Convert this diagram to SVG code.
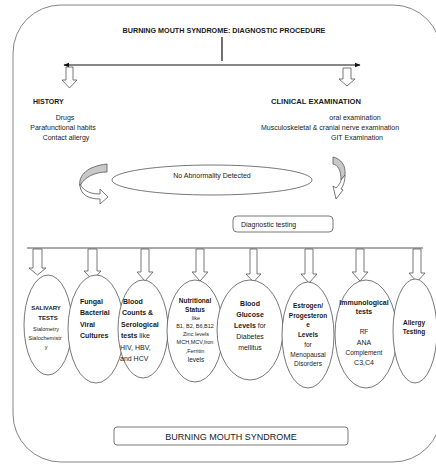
<svg xmlns="http://www.w3.org/2000/svg" width="436" height="464" viewBox="0 0 436 464">
<defs>
<style>
text{font-family:"Liberation Sans",Arial,sans-serif;fill:#1a1a1a;}
.b{font-weight:bold;}
.t7{font-size:7px;}
.t65{font-size:6.5px;}
.t6{font-size:6px;}
.t5{font-size:5.5px;}
.c{text-anchor:middle;}
.frame{fill:none;stroke:#666;stroke-width:0.8;}
.ell{fill:#fff;stroke:#555;stroke-width:0.8;}
.blk{fill:#fff;stroke:#555;stroke-width:0.8;}
.ln{stroke:#111;stroke-width:1.2;fill:none;}
.ln2{stroke:#555;stroke-width:1;fill:none;}
</style>
<marker id="ah" viewBox="0 0 10 10" refX="9" refY="5" markerWidth="5" markerHeight="5" orient="auto-start-reverse">
<path d="M0,1 L10,5 L0,9 Z" fill="#111"/>
</marker>
</defs>
<rect class="frame" x="13" y="5" width="428" height="457" rx="48" ry="48"/>

<g id="title"><text class="b c" x="224" y="33" font-size="7.2">BURNING MOUTH SYNDROME: DIAGNOSTIC PROCEDURE</text></g>

<g id="connectors">
<line class="ln" x1="222" y1="37" x2="222" y2="61" stroke-width="0.8"/>
<line class="ln" x1="64" y1="65" x2="360" y2="65" marker-start="url(#ah)" marker-end="url(#ah)"/>
<path class="blk" d="M66,67 L73,67 L73,80 L77,80 L69.5,88 L62,80 L66,80 Z"/>
<path class="blk" d="M343,68 L351,68 L351,79 L355,79 L347,86 L339,79 L343,79 Z"/>
<path d="M107,164 L107,172 C95,172 84,177 80,186 C78,175 88,166 107,164 Z" fill="#c8c8c8" stroke="#555" stroke-width="0.8"/>
<path d="M80,186 C81,195 89,199 100,199 L100,204 L108,197 L100,189 L100,194 C92,194 84,192 80,184 Z" fill="#fff" stroke="#555" stroke-width="0.8"/>
<path d="M333,157 C341,159 346,165 345,175 L341,180 C341,170 338,165 333,164 Z" fill="#c8c8c8" stroke="#555" stroke-width="0.8"/>
<path d="M345,175 C345,182 343,186 341,189 L343,190 L336,199 L333,186 L336,188 C339,185 341,182 341,180 Z" fill="#fff" stroke="#555" stroke-width="0.8"/>
<line class="ln2" x1="27" y1="248" x2="423" y2="248"/>
<path class="blk" d="M33,249 L42,249 L42,268 L46,268 L37.5,275 L29,268 L33,268 Z"/>
<path class="blk" d="M88,249 L97,249 L97,271 L101,271 L92.5,280 L84,271 L88,271 Z"/>
<path class="blk" d="M141,249 L149,249 L149,272 L153,272 L145,281 L137,272 L141,272 Z"/>
<path class="blk" d="M196,249 L204,249 L204,272 L208,272 L200,281 L192,272 L196,272 Z"/>
<path class="blk" d="M250,249 L257,249 L257,274 L261,274 L253.5,282 L246,274 L250,274 Z"/>
<path class="blk" d="M305,249 L313,249 L313,274 L317,274 L309,283 L301,274 L305,274 Z"/>
<path class="blk" d="M356,249 L364,249 L364,272 L368,272 L360,281 L352,272 L356,272 Z"/>
<path class="blk" d="M413,249 L421,249 L421,273 L425,273 L417,282 L409,273 L413,273 Z"/>
</g>

<g id="history">
<text class="b t7" x="33" y="104">HISTORY</text>
<text class="t7 c" x="65" y="120">Drugs</text>
<text class="t7 c" x="63" y="130">Parafunctional habits</text>
<text class="t7 c" x="66" y="140">Contact allergy</text>
</g>

<g id="clinical">
<text class="b c" x="316" y="104" font-size="7.6">CLINICAL EXAMINATION</text>
<text class="t7 c" x="355" y="120">oral examination</text>
<text class="t7 c" x="330" y="130">Musculoskeletal &amp; cranial nerve examination</text>
<text class="t7 c" x="357" y="140">GIT Examination</text>
</g>

<g id="nad">
<ellipse cx="212" cy="180" rx="100" ry="15" fill="none" stroke="#555" stroke-width="0.8"/>
<text class="t7 c" x="212" y="178">No Abnormality Detected</text>
</g>

<g id="diag">
<rect x="233" y="216" width="100" height="16" rx="4" fill="#fff" stroke="#555" stroke-width="0.8"/>
<text class="t7" x="241" y="227">Diagnostic  testing</text>
</g>

<g id="salivary">
<ellipse class="ell" cx="48" cy="325" rx="24" ry="50"/>
<text class="b t6 c" x="46" y="310">SALIVARY</text>
<text class="b t6 c" x="48" y="320">TESTS</text>
<text class="t5 c" x="46" y="331">Sialometry</text>
<text class="t5 c" x="45" y="340">Sialochemistr</text>
<text class="t5 c" x="46" y="349">y</text>
</g>

<g id="fungal">
<ellipse class="ell" cx="96" cy="329" rx="28" ry="54"/>
<text class="b t7" x="80" y="304">Fungal</text>
<text class="b t7" x="80" y="315">Bacterial</text>
<text class="b t7" x="80" y="327">Viral</text>
<text class="b t7" x="80" y="338">Cultures</text>
</g>

<g id="blood">
<ellipse class="ell" cx="143" cy="329" rx="25" ry="49"/>
<text class="b t7" x="123" y="304">Blood</text>
<text class="b t7" x="122" y="315">Counts &amp;</text>
<text class="b t7" x="121" y="327">Serological</text>
<text class="t7" x="121" y="338"><tspan class="b">tests</tspan> like</text>
<text class="t7" x="120" y="350">HIV, HBV,</text>
<text class="t7" x="120" y="361">and HCV</text>
</g>

<g id="nutritional">
<ellipse class="ell" cx="195" cy="331" rx="28" ry="51"/>
<text class="b t65 c" x="195" y="303">Nutritional</text>
<text class="b t65 c" x="195" y="312">Status</text>
<text class="t5 c" x="196" y="320">like</text>
<text class="t5 c" x="195" y="328">B1, B2, B6,B12</text>
<text class="t5 c" x="196" y="336">Zinc levels</text>
<text class="t5 c" x="195" y="344">MCH,MCV,Iron</text>
<text class="t5 c" x="195" y="353">,Ferritin</text>
<text class="t65 c" x="196" y="362">levels</text>
</g>

<g id="glucose">
<ellipse class="ell" cx="250" cy="330" rx="33" ry="50"/>
<text class="b t7 c" x="250" y="306">Blood</text>
<text class="b t7 c" x="250" y="317">Glucose</text>
<text class="t7 c" x="250" y="328"><tspan class="b">Levels</tspan> for</text>
<text class="t7 c" x="250" y="339">Diabetes</text>
<text class="t7 c" x="250" y="350">mellitus</text>
</g>

<g id="estrogen">
<ellipse class="ell" cx="308" cy="335" rx="26" ry="53"/>
<text class="b t65 c" x="308" y="308">Estrogen/</text>
<text class="b t65 c" x="308" y="318">Progesteron</text>
<text class="b t65 c" x="308" y="327">e</text>
<text class="b t65 c" x="308" y="337">Levels</text>
<text class="t65 c" x="308" y="347">for</text>
<text class="t65 c" x="308" y="357">Menopausal</text>
<text class="t65 c" x="308" y="366">Disorders</text>
</g>

<g id="immuno">
<ellipse class="ell" cx="366" cy="334" rx="31" ry="54"/>
<text class="b t7 c" x="364" y="305">Immunological</text>
<text class="b t7 c" x="364" y="314">tests</text>
<text class="t65 c" x="364" y="334">RF</text>
<text class="t7 c" x="364" y="345">ANA</text>
<text class="t65 c" x="364" y="355">Complement</text>
<text class="t7 c" x="364" y="365">C3,C4</text>
</g>

<g id="allergy">
<ellipse class="ell" cx="415" cy="331" rx="22" ry="52"/>
<text class="b t65 c" x="414" y="325">Allergy</text>
<text class="b t65 c" x="414" y="334">Testing</text>
</g>

<g id="bms">
<rect x="114" y="427" width="234" height="18" rx="3" fill="#fff" stroke="#555" stroke-width="0.8"/>
<text class="c" x="231" y="439.5" font-size="9">BURNING MOUTH SYNDROME</text>
</g>
</svg>
